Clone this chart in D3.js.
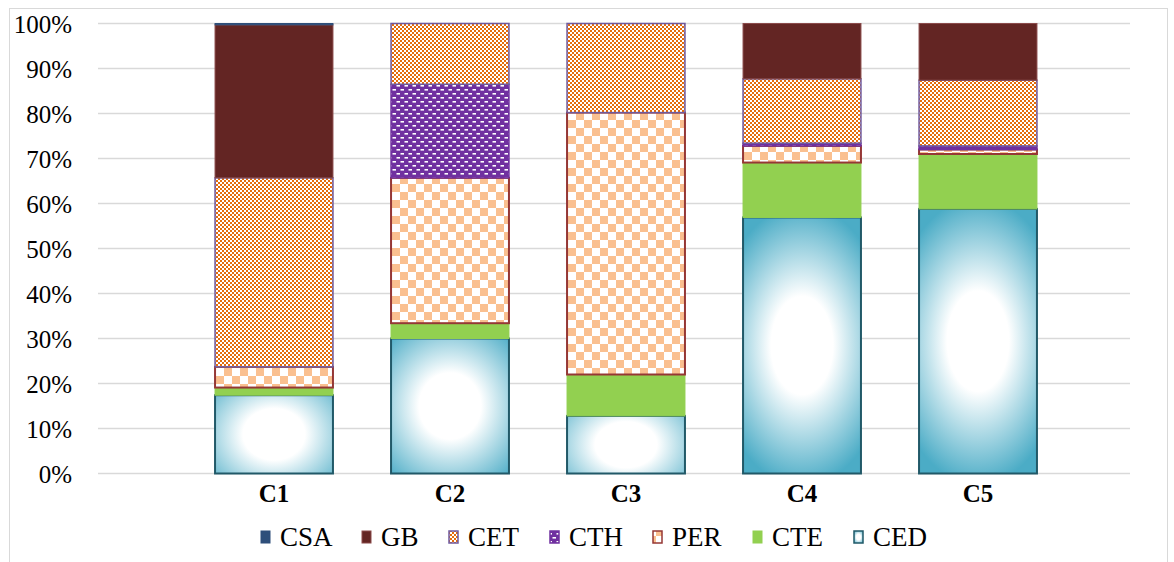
<!DOCTYPE html>
<html><head><meta charset="utf-8">
<script src="https://cdn.jsdelivr.net/npm/d3@7"></script>
<style>body{margin:0;background:#fff}svg{display:block}text{font-family:"Liberation Serif","Times New Roman",serif}</style>
</head><body>
<svg id="c" width="1174" height="562"></svg>
<script>
const categories = ["C1","C2","C3","C4","C5"];
const seriesNames = ["CED","CTE","PER","CTH","CET","GB","CSA"];
const CED = [17.4, 30.0, 12.8, 56.9, 58.8];
const CTE = [1.7, 3.4, 9.2, 12.2, 12.2];
const PER = [4.6, 32.3, 58.2, 3.7, 1.0];
const CTH = [0.0, 20.8, 0.0, 0.6, 0.8];
const CET = [42.0, 13.5, 19.8, 14.3, 14.6];
const GB  = [34.0, 0.0, 0.0, 12.3, 12.6];
const CSA = [0.3, 0.0, 0.0, 0.0, 0.0];
const legendOrder = ["CSA","GB","CET","CTH","PER","CTE","CED"];
const yTicks = [0,10,20,30,40,50,60,70,80,90,100];

const valuesBy = {CED,CTE,PER,CTH,CET,GB,CSA};
const rows = categories.map((c,i)=>{const r={cat:c};seriesNames.forEach(s=>r[s]=valuesBy[s][i]);return r;});
const stack = d3.stack().keys(seriesNames).offset(d3.stackOffsetExpand)(rows);

const svg = d3.select("#c");
const defs = svg.append("defs");
let p = defs.append("pattern").attr("id","pCET").attr("patternUnits","userSpaceOnUse").attr("width",4).attr("height",4);
p.append("rect").attr("width",4).attr("height",4).attr("fill","#fff");
p.append("rect").attr("width",2).attr("height",2).attr("fill","#E46C0A");
p.append("rect").attr("x",2).attr("y",2).attr("width",2).attr("height",2).attr("fill","#E46C0A");
p = defs.append("pattern").attr("id","pPER").attr("patternUnits","userSpaceOnUse").attr("width",16).attr("height",16);
p.append("rect").attr("width",16).attr("height",16).attr("fill","#fff");
p.append("rect").attr("width",8).attr("height",8).attr("fill","#FAC090");
p.append("rect").attr("x",8).attr("y",8).attr("width",8).attr("height",8).attr("fill","#FAC090");
p = defs.append("pattern").attr("id","pCTH").attr("patternUnits","userSpaceOnUse").attr("width",8).attr("height",8);
p.append("rect").attr("width",8).attr("height",8).attr("fill","#7030A0");
p.append("rect").attr("x",0.5).attr("y",1).attr("width",3.5).attr("height",1.6).attr("fill","#fff");
p.append("rect").attr("x",4.5).attr("y",5).attr("width",3.5).attr("height",1.6).attr("fill","#fff");
const lg = defs.append("radialGradient").attr("id","gCEDleg").attr("cx",0.5).attr("cy",0.5).attr("r",0.7);
lg.append("stop").attr("offset","0%").attr("stop-color","#ffffff");
lg.append("stop").attr("offset","35%").attr("stop-color","#ffffff");
lg.append("stop").attr("offset","100%").attr("stop-color","#4BACC6");

const style = {
  CED:{fill:"url(#gCEDleg)",stroke:"#215968",sw:2},
  CTE:{fill:"#92D050",stroke:"#92D050",sw:1},
  PER:{fill:"url(#pPER)",stroke:"#953735",sw:2},
  CTH:{fill:"url(#pCTH)",stroke:"#7030A0",sw:1.5},
  CET:{fill:"url(#pCET)",stroke:"#6F5A9E",sw:1.5},
  GB:{fill:"#632523",stroke:"#8B4B4B",sw:1},
  CSA:{fill:"#2E4F7A",stroke:"#2E4F7A",sw:1}
};

svg.append("rect").attr("x",9.5).attr("y",8.5).attr("width",1158).attr("height",560).attr("fill","none").attr("stroke","#d9d9d9").attr("stroke-width",1);

const x = d3.scaleBand().domain(categories).range([186,1066]).paddingInner(0.33).paddingOuter(0.165);
const y = d3.scaleLinear().domain([0,1]).range([473.5,23.5]);

svg.append("g").selectAll("line").data(yTicks).join("line")
  .attr("x1",98).attr("x2",1130).attr("y1",d=>y(d/100)).attr("y2",d=>y(d/100))
  .attr("stroke","#d9d9d9").attr("stroke-width",1.5);

const yAxis = d3.axisLeft(y).tickValues(yTicks.map(d=>d/100)).tickFormat(d3.format(".0%")).tickSize(0).tickPadding(0);
const ya = svg.append("g").attr("transform","translate(72,0)").call(yAxis);
ya.select(".domain").remove();
ya.selectAll("text").attr("font-size",25).attr("fill","#000").attr("font-family","Liberation Serif, serif").attr("dy","0.35em");

const xAxis = d3.axisBottom(x).tickSize(0).tickPadding(0);
const xa = svg.append("g").attr("transform","translate(0,484)").call(xAxis);
xa.select(".domain").remove();
xa.selectAll("text").attr("font-size",25).attr("font-weight","bold").attr("fill","#000").attr("font-family","Liberation Serif, serif").attr("dy","0.71em");

stack.forEach(layer=>{
  const st = style[layer.key];
  const data = layer.filter(d=>d[1]-d[0]>0);
  svg.append("g").selectAll("rect").data(data).join("rect")
    .attr("x",d=>x(d.data.cat)).attr("width",x.bandwidth())
    .attr("y",d=>y(d[1])).attr("height",d=>y(d[0])-y(d[1]))
    .attr("fill",d=>{
      if(layer.key!=="CED") return st.fill;
      const w = x.bandwidth(), h = y(d[0])-y(d[1]);
      const cx = x(d.data.cat)+w/2, cy = y(d[1])+h/2;
      const rx = 0.75*w, ry = (0.75*w+0.75*h)/2;
      const id = "gCED_"+d.data.cat;
      const gr = defs.append("radialGradient").attr("id",id).attr("gradientUnits","userSpaceOnUse")
        .attr("cx",0).attr("cy",0).attr("r",1)
        .attr("gradientTransform",`translate(${cx},${cy}) scale(${rx},${ry})`);
      gr.append("stop").attr("offset","0%").attr("stop-color","#ffffff");
      gr.append("stop").attr("offset","35%").attr("stop-color","#ffffff");
      gr.append("stop").attr("offset","100%").attr("stop-color","#4BACC6");
      return `url(#${id})`;
    })
    .attr("stroke",st.stroke).attr("stroke-width",st.sw);
});

const legX = [261, 362, 449, 550, 653, 753, 854];
const leg = svg.append("g");
legendOrder.forEach((k,i)=>{
  const st = style[k];
  leg.append("rect").attr("x",legX[i]).attr("y",531).attr("width",9).attr("height",12)
    .attr("fill",st.fill).attr("stroke",st.stroke).attr("stroke-width",Math.min(st.sw,1.5));
  leg.append("text").attr("x",legX[i]+19).attr("y",546).attr("font-size",27).attr("fill","#000").text(k);
});
</script>
</body></html>
